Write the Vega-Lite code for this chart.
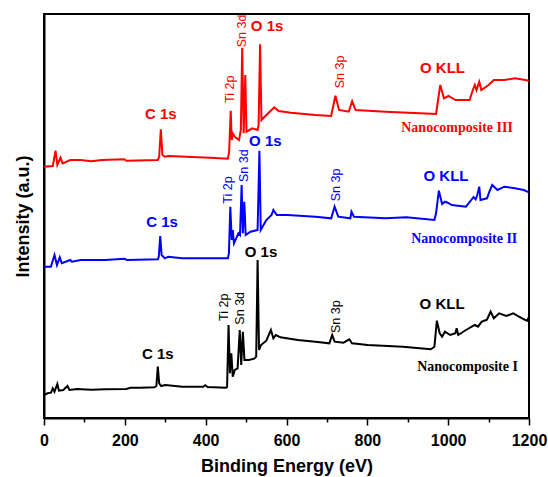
{
  "$schema": "https://vega.github.io/schema/vega-lite/v6.json",
  "width": 485,
  "height": 404,
  "autosize": {"type": "none"},
  "padding": {"left": 44, "top": 14, "right": 19, "bottom": 59},
  "background": "white",
  "config": {
    "view": {"stroke": "black", "strokeWidth": 2},
    "font": "Liberation Sans"
  },
  "datasets": {
    "spectra": [
      {"series":"I","energy":0,"intensity":23},{"series":"I","energy":8.7,"intensity":24.7},{"series":"I","energy":17.3,"intensity":25.3},{"series":"I","energy":21.7,"intensity":29.7},{"series":"I","energy":26,"intensity":26.3},{"series":"I","energy":33,"intensity":34},{"series":"I","energy":37,"intensity":27.3},{"series":"I","energy":47.7,"intensity":28},{"series":"I","energy":58,"intensity":32},{"series":"I","energy":63,"intensity":28},{"series":"I","energy":82,"intensity":29},{"series":"I","energy":117,"intensity":28.3},{"series":"I","energy":151.6,"intensity":28.7},{"series":"I","energy":203.6,"intensity":29},{"series":"I","energy":214,"intensity":30.3},{"series":"I","energy":238,"intensity":30.3},{"series":"I","energy":273,"intensity":30.7},{"series":"I","energy":278,"intensity":32},{"series":"I","energy":281.6,"intensity":51.3},{"series":"I","energy":285,"intensity":34.7},{"series":"I","energy":290,"intensity":32},{"series":"I","energy":300,"intensity":33},{"series":"I","energy":342,"intensity":31.3},{"series":"I","energy":394,"intensity":31.3},{"series":"I","energy":399,"intensity":32.7},{"series":"I","energy":404.6,"intensity":31},{"series":"I","energy":450.5,"intensity":30.3},{"series":"I","energy":453,"intensity":31.3},{"series":"I","energy":456.6,"intensity":93},{"series":"I","energy":460,"intensity":44.7},{"series":"I","energy":463.5,"intensity":64.7},{"series":"I","energy":467,"intensity":41.3},{"series":"I","energy":472,"intensity":48},{"series":"I","energy":479,"intensity":49.7},{"series":"I","energy":484.3,"intensity":88},{"series":"I","energy":488,"intensity":53},{"series":"I","energy":492,"intensity":86.3},{"series":"I","energy":496,"intensity":58},{"series":"I","energy":507,"intensity":58},{"series":"I","energy":520,"intensity":59.3},{"series":"I","energy":525,"intensity":61.3},{"series":"I","energy":528.5,"intensity":158},{"series":"I","energy":532,"intensity":68},{"series":"I","energy":537,"intensity":73},{"series":"I","energy":550,"intensity":77.3},{"series":"I","energy":561.4,"intensity":88},{"series":"I","energy":567.5,"intensity":79.7},{"series":"I","energy":573.6,"intensity":83},{"series":"I","energy":585,"intensity":80.7},{"series":"I","energy":628,"intensity":78},{"series":"I","energy":671.5,"intensity":76.3},{"series":"I","energy":706,"intensity":74.7},{"series":"I","energy":713,"intensity":83},{"series":"I","energy":719,"intensity":76.3},{"series":"I","energy":741,"intensity":75.3},{"series":"I","energy":755.5,"intensity":78.7},{"series":"I","energy":762,"intensity":74.7},{"series":"I","energy":801,"intensity":73},{"series":"I","energy":888,"intensity":71.3},{"series":"I","energy":957,"intensity":68.7},{"series":"I","energy":966,"intensity":71.3},{"series":"I","energy":972,"intensity":97.3},{"series":"I","energy":979,"intensity":84.7},{"series":"I","energy":985,"intensity":81.3},{"series":"I","energy":992,"intensity":86.3},{"series":"I","energy":1005,"intensity":83},{"series":"I","energy":1018,"intensity":84.7},{"series":"I","energy":1021,"intensity":89.7},{"series":"I","energy":1025,"intensity":83},{"series":"I","energy":1044,"intensity":88},{"series":"I","energy":1066,"intensity":93},{"series":"I","energy":1074,"intensity":91.3},{"series":"I","energy":1083,"intensity":96.3},{"series":"I","energy":1096,"intensity":98.3},{"series":"I","energy":1105,"intensity":106.3},{"series":"I","energy":1113,"intensity":99.7},{"series":"I","energy":1126,"intensity":104.7},{"series":"I","energy":1144,"intensity":102},{"series":"I","energy":1161,"intensity":104.7},{"series":"I","energy":1183,"intensity":99.7},{"series":"I","energy":1191,"intensity":98},{"series":"I","energy":1196,"intensity":97.3},{"series":"I","energy":1200,"intensity":101.3},
      {"series":"II","energy":0,"intensity":151.3},{"series":"II","energy":17,"intensity":151.3},{"series":"II","energy":26,"intensity":163},{"series":"II","energy":32,"intensity":153},{"series":"II","energy":39,"intensity":160.7},{"series":"II","energy":44,"intensity":154.7},{"series":"II","energy":65,"intensity":158},{"series":"II","energy":69,"intensity":156.3},{"series":"II","energy":91,"intensity":158},{"series":"II","energy":151.6,"intensity":158},{"series":"II","energy":199,"intensity":159.3},{"series":"II","energy":205,"intensity":158},{"series":"II","energy":281.6,"intensity":158.7},{"series":"II","energy":284,"intensity":161.3},{"series":"II","energy":287.6,"intensity":182},{"series":"II","energy":291,"intensity":163},{"series":"II","energy":299,"intensity":159.7},{"series":"II","energy":307.6,"intensity":161.3},{"series":"II","energy":342,"intensity":159.7},{"series":"II","energy":455,"intensity":159.7},{"series":"II","energy":457.5,"intensity":164.7},{"series":"II","energy":461,"intensity":211.3},{"series":"II","energy":464.5,"intensity":178},{"series":"II","energy":467,"intensity":188},{"series":"II","energy":470,"intensity":174.7},{"series":"II","energy":481,"intensity":184.7},{"series":"II","energy":485,"intensity":183},{"series":"II","energy":489,"intensity":233},{"series":"II","energy":492,"intensity":184.7},{"series":"II","energy":495.6,"intensity":216.3},{"series":"II","energy":499,"intensity":183},{"series":"II","energy":511,"intensity":186.3},{"series":"II","energy":528.5,"intensity":188},{"series":"II","energy":533,"intensity":267.3},{"series":"II","energy":536.3,"intensity":188},{"series":"II","energy":550,"intensity":198},{"series":"II","energy":563,"intensity":203},{"series":"II","energy":567.5,"intensity":208},{"series":"II","energy":576,"intensity":203},{"series":"II","energy":602,"intensity":203},{"series":"II","energy":671.5,"intensity":201.3},{"series":"II","energy":710.5,"intensity":199.7},{"series":"II","energy":719,"intensity":211.3},{"series":"II","energy":728,"intensity":201.3},{"series":"II","energy":758,"intensity":199.7},{"series":"II","energy":760.7,"intensity":206.3},{"series":"II","energy":767,"intensity":201.3},{"series":"II","energy":845,"intensity":199.7},{"series":"II","energy":897,"intensity":200.7},{"series":"II","energy":966,"intensity":198},{"series":"II","energy":970,"intensity":204.7},{"series":"II","energy":977,"intensity":227.3},{"series":"II","energy":985,"intensity":214},{"series":"II","energy":992,"intensity":216.3},{"series":"II","energy":999,"intensity":215.3},{"series":"II","energy":1009,"intensity":213},{"series":"II","energy":1044,"intensity":211.3},{"series":"II","energy":1057,"intensity":218},{"series":"II","energy":1063,"intensity":221},{"series":"II","energy":1068,"intensity":218.7},{"series":"II","energy":1072,"intensity":223},{"series":"II","energy":1077,"intensity":231.3},{"series":"II","energy":1080,"intensity":218},{"series":"II","energy":1096,"intensity":219.7},{"series":"II","energy":1102,"intensity":226.3},{"series":"II","energy":1109,"intensity":233},{"series":"II","energy":1122,"intensity":228},{"series":"II","energy":1139,"intensity":231.3},{"series":"II","energy":1165,"intensity":229.7},{"series":"II","energy":1187,"intensity":228},{"series":"II","energy":1200,"intensity":225.7},
      {"series":"III","energy":0,"intensity":251.3},{"series":"III","energy":21.7,"intensity":252},{"series":"III","energy":28.6,"intensity":267.3},{"series":"III","energy":33,"intensity":253},{"series":"III","energy":40.7,"intensity":260.3},{"series":"III","energy":46,"intensity":254.7},{"series":"III","energy":65,"intensity":258},{"series":"III","energy":91,"intensity":258},{"series":"III","energy":117,"intensity":256.7},{"series":"III","energy":143,"intensity":258},{"series":"III","energy":199,"intensity":258.7},{"series":"III","energy":203.6,"intensity":257.3},{"series":"III","energy":281.6,"intensity":258},{"series":"III","energy":285,"intensity":261.3},{"series":"III","energy":289,"intensity":288.7},{"series":"III","energy":293,"intensity":263},{"series":"III","energy":299,"intensity":261.3},{"series":"III","energy":307.6,"intensity":262},{"series":"III","energy":411.5,"intensity":260.3},{"series":"III","energy":455,"intensity":259.3},{"series":"III","energy":458,"intensity":266},{"series":"III","energy":462,"intensity":307.3},{"series":"III","energy":464.5,"intensity":278},{"series":"III","energy":467,"intensity":284.7},{"series":"III","energy":472,"intensity":281.3},{"series":"III","energy":482.6,"intensity":278},{"series":"III","energy":487,"intensity":288},{"series":"III","energy":490.4,"intensity":370.3},{"series":"III","energy":494,"intensity":284.7},{"series":"III","energy":498,"intensity":343},{"series":"III","energy":501,"intensity":286.3},{"series":"III","energy":515.5,"intensity":289.7},{"series":"III","energy":528.5,"intensity":288},{"series":"III","energy":531,"intensity":293},{"series":"III","energy":534.6,"intensity":373.7},{"series":"III","energy":538,"intensity":298},{"series":"III","energy":554.5,"intensity":304.7},{"series":"III","energy":570,"intensity":310.7},{"series":"III","energy":580.5,"intensity":307},{"series":"III","energy":611,"intensity":305.3},{"series":"III","energy":671.5,"intensity":303},{"series":"III","energy":710.5,"intensity":302},{"series":"III","energy":721,"intensity":322.3},{"series":"III","energy":730,"intensity":308},{"series":"III","energy":754,"intensity":306.3},{"series":"III","energy":762.4,"intensity":316.7},{"series":"III","energy":771,"intensity":308},{"series":"III","energy":845,"intensity":306.3},{"series":"III","energy":931,"intensity":304.7},{"series":"III","energy":970,"intensity":304},{"series":"III","energy":980.5,"intensity":333},{"series":"III","energy":989.5,"intensity":319.7},{"series":"III","energy":1000.7,"intensity":322},{"series":"III","energy":1018,"intensity":318},{"series":"III","energy":1053,"intensity":318},{"series":"III","energy":1061,"intensity":328},{"series":"III","energy":1066,"intensity":333},{"series":"III","energy":1070,"intensity":328},{"series":"III","energy":1077,"intensity":336.3},{"series":"III","energy":1082,"intensity":328},{"series":"III","energy":1100,"intensity":333},{"series":"III","energy":1113,"intensity":338},{"series":"III","energy":1139,"intensity":338},{"series":"III","energy":1165,"intensity":339.7},{"series":"III","energy":1191,"intensity":338},{"series":"III","energy":1200,"intensity":337.3}
    ],
    "peaks": [
      {"series":"III","label":"C 1s","energy":289,"intensity":304},
      {"series":"III","label":"O 1s","energy":552,"intensity":392},
      {"series":"III","label":"O KLL","energy":986,"intensity":349.7},
      {"series":"II","label":"C 1s","energy":292,"intensity":196.3},
      {"series":"II","label":"O 1s","energy":547.6,"intensity":277.3},
      {"series":"II","label":"O KLL","energy":994.6,"intensity":242.3},
      {"series":"I","label":"C 1s","energy":281.6,"intensity":64},
      {"series":"I","label":"O 1s","energy":537,"intensity":165.7},
      {"series":"I","label":"O KLL","energy":985,"intensity":113.7}
    ],
    "rotated": [
      {"series":"III","label":"Ti 2p","energy":460,"intensity":328.7},
      {"series":"III","label":"Sn 3d","energy":491,"intensity":387},
      {"series":"III","label":"Sn 3p","energy":732,"intensity":346},
      {"series":"II","label":"Ti 2p","energy":455,"intensity":228},
      {"series":"II","label":"Sn 3d","energy":495.6,"intensity":252.3},
      {"series":"II","label":"Sn 3p","energy":723.5,"intensity":233},
      {"series":"I","label":"Ti 2p","energy":444.5,"intensity":110.7},
      {"series":"I","label":"Sn 3d","energy":486,"intensity":109.7},
      {"series":"I","label":"Sn 3p","energy":723.5,"intensity":101.3}
    ],
    "names": [
      {"series":"III","label":"Nanocomposite III","energy":1022,"intensity":290.3},
      {"series":"II","label":"Nanocomposite II","energy":1039.7,"intensity":178.7},
      {"series":"I","label":"Nanocomposite I","energy":1048,"intensity":51.3}
    ]
  },
  "encoding": {
    "x": {
      "field": "energy", "type": "quantitative",
      "scale": {"domain": [0, 1200], "nice": false, "zero": false},
      "axis": {
        "title": "Binding Energy (eV)",
        "values": [0,100,200,300,400,500,600,700,800,900,1000,1100,1200],
        "labelExpr": "datum.value % 200 === 0 ? datum.label : ''",
        "format": "d",
        "grid": false,
        "domainColor": "black", "domainWidth": 2,
        "tickColor": "black", "tickWidth": 1.5,
        "tickSize": {"condition": {"test": "datum.value % 200 === 0", "value": 7}, "value": 4},
        "labelFont": "Liberation Sans", "labelFontSize": 16, "labelFontWeight": "bold", "labelColor": "black",
        "labelPadding": 7, "labelFlush": false,
        "titleFont": "Liberation Sans", "titleFontSize": 18, "titleFontWeight": "bold", "titleColor": "black",
        "titlePadding": 9
      }
    },
    "y": {
      "field": "intensity", "type": "quantitative",
      "scale": {"domain": [0, 404], "nice": false, "zero": false},
      "axis": {
        "title": "Intensity (a.u.)",
        "labels": false, "ticks": false, "grid": false,
        "domainColor": "black", "domainWidth": 2,
        "titleFont": "Liberation Sans", "titleFontSize": 18, "titleFontWeight": "bold", "titleColor": "black",
        "titlePadding": 12
      }
    },
    "color": {
      "field": "series", "type": "nominal",
      "scale": {"domain": ["I","II","III"], "range": ["#000000","#0000ff","#ff0000"]},
      "legend": null
    }
  },
  "layer": [
    {
      "data": {"name": "spectra"},
      "mark": {"type": "line", "strokeWidth": 2, "interpolate": "linear"},
      "encoding": {"detail": {"field": "series"}}
    },
    {
      "data": {"name": "peaks"},
      "mark": {"type": "text", "font": "Liberation Sans", "fontSize": 15, "fontWeight": "bold", "align": "center", "baseline": "middle"},
      "encoding": {"text": {"field": "label"}}
    },
    {
      "data": {"name": "rotated"},
      "mark": {"type": "text", "font": "Liberation Sans", "fontSize": 12.5, "angle": 270, "align": "center", "baseline": "middle"},
      "encoding": {"text": {"field": "label"}}
    },
    {
      "data": {"name": "names"},
      "mark": {"type": "text", "font": "Liberation Serif", "fontSize": 14, "fontWeight": "bold", "align": "center", "baseline": "middle"},
      "encoding": {"text": {"field": "label"}}
    }
  ]
}
